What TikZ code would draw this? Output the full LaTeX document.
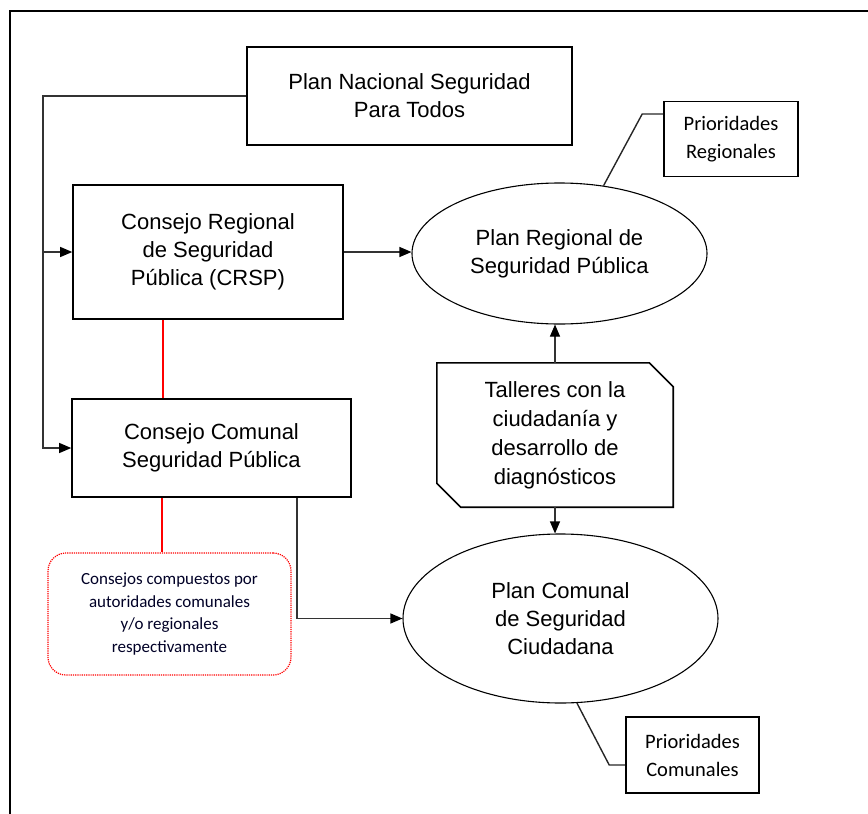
\documentclass[tikz,border=0pt]{standalone}
\usepackage{fontspec}
\setmainfont{Liberation Sans}
\newfontfamily\calibfont{Carlito}
\usetikzlibrary{arrows.meta,calc,shapes.geometric}
\def\mainsize{\fontsize{22}{28}\selectfont}
\def\notesize{\calibfont\fontsize{20.5}{28}\selectfont}

\begin{document}
\begin{tikzpicture}[x=1pt, y=-1pt,
		box/.style={draw, line width=1.6pt, align=center, font=\mainsize, inner sep=0pt},
		oval/.style={draw, ellipse, line width=1.1pt, align=center, font=\mainsize, inner sep=0pt},
		note/.style={draw, line width=1.6pt, align=center, font=\notesize, inner sep=0pt},
		link/.style={line width=1.1pt, color=black!80},
		redlink/.style={line width=1.3pt, color=red},
		tip/.style={-{Triangle[length=12pt, width=10pt, color=black]}}]
			%%%%% START %%%%%
			
			\useasboundingbox (0, 0) rectangle (868, 814);
			\draw[line width=2.5pt] (10, 814) -- (10, 11) -- (868, 11);
			
			\node[box, minimum width=325, minimum height=98] (nacional) at (409.5, 96) {Plan Nacional Seguridad\\Para Todos};
			\node[box, minimum width=270, minimum height=134] (regional) at (208, 252) {Consejo Regional\\de Seguridad\\Pública (CRSP)};
			\node[box, minimum width=279, minimum height=98] (comunal) at (211.5, 448) {Consejo Comunal\\Seguridad Pública};
			
			\node[oval, minimum width=295, minimum height=141] (planreg) at (559.5, 253.5) {Plan Regional de\\Seguridad Pública};
			\node[oval, minimum width=315, minimum height=169] (plancom) at (560.5, 618.5) {Plan Comunal\\de Seguridad\\Ciudadana};
			
			\node[note, minimum width=134, minimum height=75] (prioreg) at (731, 139) {Prioridades\\Regionales};
			\node[note, minimum width=133, minimum height=76] (priocom) at (692.5, 755) {Prioridades\\Comunales};
			
			\node[align=center, font=\fontsize{22}{29}\selectfont, inner sep=0pt, minimum width=236, minimum height=144] (talleres) at (555, 435) {Talleres con la\\ciudadanía y\\desarrollo de\\diagnósticos};
			\draw[line width=1.6pt] (talleres.north west) -- ($(talleres.north east)+(-24, 0)$) -- ($(talleres.north east)+(0, 24)$) -- (talleres.south east) -- ($(talleres.south west)+(24, 0)$) -- ($(talleres.south west)+(0, -24)$) -- cycle;
			
			\node[draw=red, densely dotted, line width=1.2pt, rounded corners=18pt, minimum width=243, minimum height=122, align=center, font=\calibfont\fontsize{17}{22.5}\selectfont, text=black!85!blue] (consejos) at (169.5, 614) {Consejos compuestos por\\autoridades comunales\\y/o regionales\\respectivamente};
			
			% left bus
			\coordinate (bus) at (43, 96);
			\draw[link, tip] (nacional.west) -- (bus) |- (comunal.west);
			\draw[link, tip] (bus |- regional.west) -- (regional.west);
			
			\draw[link, tip] (regional.east) -- (regional.east -| planreg.west);
			\draw[link, tip] (talleres.north) -- (talleres.north |- planreg.south);
			\draw[link, tip] (talleres.south) -- (talleres.south |- plancom.north);
			\draw[link, tip] ([xshift=85.5]comunal.south) |- (plancom.west);
			
			\draw[redlink] ([xshift=-45]regional.south) -- ([xshift=-45]regional.south |- comunal.north);
			\draw[redlink] ([xshift=-49.5]comunal.south) -- ([xshift=-49.5]comunal.south |- consejos.north);
			
			\draw[line width=1.4pt, color=black!85] ([yshift=25]prioreg.west) -- ++(-21, 0) -- (planreg.57);
			\draw[line width=1.4pt, color=black!85] ([yshift=-10]priocom.west) -- ++(-16, 0) -- (plancom.281);
			
			%%%%% END %%%%%
		\end{tikzpicture}
\end{document}
